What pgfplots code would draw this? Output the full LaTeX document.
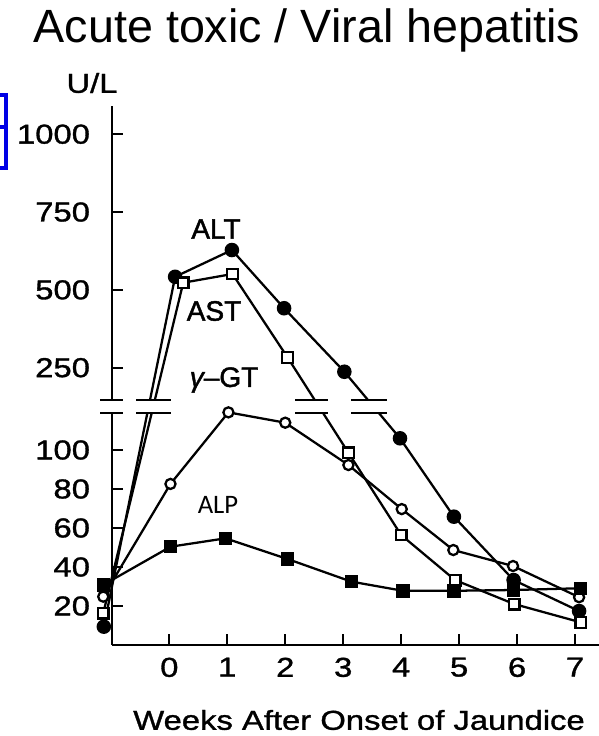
\documentclass[border=0pt]{standalone}
\usepackage{pgfplots}
\pgfplotsset{compat=1.18}
\usepackage{fontspec}
\setmainfont{Liberation Sans}
\newfontfamily\scanfont[FakeStretch=1.2, FakeBold=1.2]{Liberation Sans}
\newfontfamily\labfont[FakeBold=1.6]{Liberation Sans}
\newfontfamily\calfont{Carlito}
\newcommand{\scan}{\scanfont\fontsize{20.5}{24}\selectfont}
\newcommand{\lab}{\labfont\fontsize{21}{24}\selectfont}

\begin{document}
\begin{tikzpicture}[x=0.75pt,y=0.75pt]
\path[use as bounding box] (0,0) rectangle (599,736);

\begin{axis}[
    at={(84pt,68.25pt)}, anchor=south west,
    x=43.47pt, y=0.75pt,
    xmin=-0.989, xmax=7.414,
    ymin=0, ymax=1090,
    % broken y axis: linear 0-130 below the break, 250-1000 above it
    y coord trafo/.code={\pgfmathparse{(#1<130) ? 1.95*#1 : 277.3+(#1-250)*0.3113}},
    axis x line*=bottom, axis y line*=left,
    axis line style={line width=1.7pt},
    tick style={line width=1.6pt, black},
    tick align=inside, major tick length=8pt,
    xtick={0,1,2,3,4,5,6,7},
    xticklabels={0,1,2,3,4,5,6,7},
    ytick={20,40,60,80,100,250,500,750,1000},
    yticklabels={20,40,60,80,100,250,500,750,1000},
    ticklabel style={font=\scan},
    xticklabel style={yshift=-6pt},
    yticklabel style={xshift=-13pt},
    /pgf/number format/assume math mode=true,
    clip=false,
    every axis plot/.append style={line width=1.7pt, black, mark options={solid, line width=1.2pt}},
]
% ALT
\addplot[mark=*, mark size=4.6pt, mark options={fill=black}] coordinates {
  (-1.13,9.4) (0.10,542) (1.08,628) (1.98,441) (3.02,237)
  (3.98,106) (4.91,65.8) (5.94,33.3) (7.07,17.4)
};
% AST
\addplot[mark=square*, mark size=4pt, mark options={fill=white}] coordinates {
  (-1.14,16.3) (0.24,523) (1.09,551) (2.04,283) (3.09,98.6)
  (4.00,56.4) (4.93,33.3) (5.95,21) (7.10,11.6)
};
% gamma-GT
\addplot[mark=*, mark size=3.8pt, mark options={fill=white}] coordinates {
  (-1.14,24.8) (0.02,82.6) (1.02,119.3) (2.00,114) (3.09,92.3)
  (4.01,69.7) (4.90,48.7) (5.93,40.5) (7.07,24.5)
};
% ALP
\addplot[mark=square*, mark size=4.2pt, mark options={fill=black}] coordinates {
  (-1.14,30.8) (0.02,50.4) (0.97,54.7) (2.04,44.1) (3.14,32.5)
  (4.03,27.8) (4.91,27.8) (5.94,28.2) (7.09,29.1)
};
\end{axis}

% break marks across the axis and the lines that cross the break
\foreach \a/\b in {100/123,136/171,295/328,351/387}{
  \fill[white] (\a,323.9) rectangle (\b,335.1);
  \draw[line width=1.5pt] (\a,323) -- (\b,323) (\a,336) -- (\b,336);
}

% labels
\node[font=\fontsize{35}{40}\selectfont] at (307,706) {Acute toxic / Viral hepatitis};
\node[font=\scan] at (92,653) {U/L};
\node[font=\scan] at (359,16) {Weeks After Onset of Jaundice};
\node[font=\lab] at (216,507) {ALT};
\node[font=\lab] at (214,425) {AST};
\node[font=\lab] at (224,356) {\itshape γ\upshape –GT};
\fill[white] (180,208) rectangle (266,258);
\node[font=\calfont\fontsize{20}{24}\selectfont] at (218,231) {ALP};

% blue bracket at the left edge
\draw[blue!90!black, line width=3.5pt] (0,641) -- (6,641) -- (6,568) -- (0,568);
\draw[blue!90!black, line width=3.5pt] (6,609) -- (0,609);
\end{tikzpicture}
\end{document}
